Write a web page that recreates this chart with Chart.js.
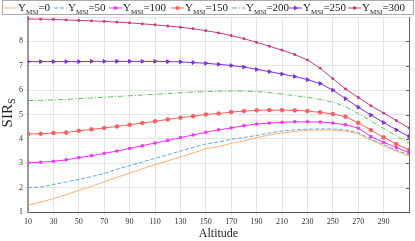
<!DOCTYPE html>
<html>
<head>
<meta charset="utf-8">
<script src="https://cdn.jsdelivr.net/npm/chart.js@4"></script>
<style>
	html, body { margin: 0; padding: 0; background: #fff; }
	#wrap { position: relative; width: 415px; height: 241px; font-family: "Liberation Serif", serif; }
	#legend { position: absolute; left: 2px; top: 0; width: 410px; height: 13px; border: 1px solid #aaa; background: #fff; }
	.item { position: absolute; top: 0; height: 13px; font-size: 11px; line-height: 12px; color: #222; white-space: nowrap; }
	.item svg { vertical-align: middle; margin-right: 1px; }
	.item sub { font-size: 7px; vertical-align: -3px; }
	#ytitle { position: absolute; left: -14px; top: 104px; width: 44px; text-align: center; font-size: 15px; color: #222; transform: rotate(-90deg); white-space: nowrap; }
	#ytitle sub { font-size: 10px; vertical-align: -3px; }
</style>
</head>
<body>
<div id="wrap">
	<canvas id="chart" width="415" height="241"></canvas>
	<div id="legend"></div>
	<div id="ytitle">SIR<sub>S</sub></div>
</div>
<script>
	// altitude axis
	var altitudes = [10, 20, 30, 40, 50, 60, 70, 80, 90, 100, 110, 120, 130, 140, 150, 160, 170, 180, 190, 200, 210, 220, 230, 240, 250, 260, 270, 280, 290, 300, 310];
	var msiLevels = ['0', '50', '100', '150', '200', '250', '300'];

	/* ================= SIR_S per Y_MSI ================= */
	var sir0 = [1.29, 1.40, 1.55, 1.71, 1.89, 2.05, 2.24, 2.42, 2.60, 2.77, 2.94, 3.10, 3.26, 3.42, 3.60, 3.68, 3.82, 3.92, 4.05, 4.16, 4.24, 4.31, 4.35, 4.36, 4.36, 4.32, 4.21, 3.95, 3.72, 3.50, 3.30];
	var sir50 = [2.00, 2.02, 2.13, 2.23, 2.34, 2.45, 2.58, 2.75, 2.90, 3.05, 3.20, 3.35, 3.50, 3.65, 3.79, 3.87, 3.98, 4.06, 4.14, 4.24, 4.32, 4.37, 4.40, 4.41, 4.41, 4.36, 4.25, 4.00, 3.77, 3.54, 3.34];
	var sir100 = [3.02, 3.04, 3.08, 3.14, 3.23, 3.31, 3.41, 3.50, 3.61, 3.72, 3.83, 3.94, 4.05, 4.16, 4.27, 4.37, 4.45, 4.54, 4.61, 4.65, 4.68, 4.70, 4.70, 4.69, 4.65, 4.58, 4.44, 4.09, 3.86, 3.64, 3.43];
	var sir150 = [4.20, 4.21, 4.24, 4.26, 4.33, 4.39, 4.45, 4.51, 4.58, 4.65, 4.72, 4.80, 4.87, 4.93, 5.00, 5.04, 5.10, 5.14, 5.17, 5.18, 5.18, 5.17, 5.14, 5.09, 5.02, 4.91, 4.66, 4.36, 4.06, 3.79, 3.54];
	var sir200 = [5.57, 5.58, 5.60, 5.62, 5.65, 5.68, 5.71, 5.74, 5.77, 5.80, 5.83, 5.86, 5.89, 5.92, 5.94, 5.96, 5.96, 5.96, 5.94, 5.90, 5.84, 5.77, 5.71, 5.62, 5.50, 5.33, 5.04, 4.74, 4.43, 4.12, 3.83];
	var sir250 = [7.17, 7.17, 7.17, 7.17, 7.17, 7.18, 7.18, 7.18, 7.18, 7.18, 7.18, 7.17, 7.16, 7.13, 7.10, 7.06, 7.01, 6.95, 6.85, 6.76, 6.66, 6.56, 6.43, 6.27, 6.00, 5.65, 5.30, 4.98, 4.67, 4.37, 4.10];
	var sir300 = [8.92, 8.91, 8.90, 8.88, 8.86, 8.84, 8.82, 8.79, 8.76, 8.72, 8.68, 8.63, 8.58, 8.52, 8.44, 8.35, 8.24, 8.11, 7.96, 7.80, 7.64, 7.46, 7.24, 6.90, 6.47, 6.05, 5.70, 5.36, 5.06, 4.75, 4.45];

	var seriesValues = [sir0, sir50, sir100, sir150, sir200, sir250, sir300];
	var colors = ['#ffb06e', '#5aa8f2', '#ff2cff', '#ff5c5c', '#5cc45c', '#7a30e6', '#c93a7e'];
	var dashes = [[], [4, 2], [], [], [5, 2, 1, 2], [], []];
	var markers = [false, false, 'rect', 'circle', false, 'triangle', 'rect'];
	var markerSize = [0, 0, 1.5, 1.8, 0, 2.1, 1.2];

	function toPoints(values) {
		return values.map(function(v, i) {
			return { x: altitudes[i], y: v };
		});
	}

	var datasets = seriesValues.map(function(values, i) {
		return {
			label: 'Y_MSI=' + msiLevels[i],
			data: toPoints(values),
			borderColor: colors[i],
			backgroundColor: colors[i],
			borderWidth: 1,
			borderDash: dashes[i],
			pointStyle: markers[i] || 'circle',
			pointRadius: markers[i] ? markerSize[i] : 0,
			pointRotation: markers[i] === 'triangle' ? 90 : 0,
			pointBorderWidth: 1,
			tension: 0
		};
	});

	/* ================= HTML legend (needs subscripts) ================= */
	var legendLeft = [1, 51, 106, 168, 229, 286, 345];
	var legend = document.getElementById('legend');
	msiLevels.forEach(function(level, i) {
		var dash = dashes[i].length ? ' stroke-dasharray="' + dashes[i].join(',') + '"' : '';
		var mark = '';
		if (markers[i] === 'rect') {
			mark = '<rect x="5" y="3.5" width="3" height="3" fill="' + colors[i] + '"/>';
		} else if (markers[i] === 'circle') {
			mark = '<circle cx="6.5" cy="5" r="2" fill="' + colors[i] + '"/>';
		} else if (markers[i] === 'triangle') {
			mark = '<polygon points="5,2.5 9,5 5,7.5" fill="' + colors[i] + '"/>';
		}
		var el = document.createElement('div');
		el.className = 'item';
		el.style.left = legendLeft[i] + 'px';
		el.innerHTML = '<svg width="13" height="10"><line x1="0" y1="5" x2="13" y2="5" stroke="' + colors[i] + '" stroke-width="1"' + dash + '/>' + mark + '</svg>' +
			'Y<sub>MSI</sub>=' + level;
		legend.appendChild(el);
	});

	// right frame line with inward ticks
	var frameRight = {
		id: 'frameRight',
		afterDraw: function(chart) {
			var ctx = chart.ctx;
			var area = chart.chartArea;
			var yScale = chart.scales.y;
			ctx.save();
			ctx.strokeStyle = '#666';
			ctx.lineWidth = 1;
			ctx.beginPath();
			ctx.moveTo(area.right + 0.5, area.top);
			ctx.lineTo(area.right + 0.5, area.bottom);
			for (var v = 2; v <= 8; v++) {
				var py = Math.round(yScale.getPixelForValue(v)) + 0.5;
				ctx.moveTo(area.right, py);
				ctx.lineTo(area.right - 3, py);
			}
			ctx.stroke();
			ctx.restore();
		}
	};

	var tickFont = { family: 'Liberation Serif', size: 8 };

	var ctx = document.getElementById('chart');
	var chart = new Chart(ctx, {
		type: 'line',
		data: { datasets: datasets },
		plugins: [frameRight],
		options: {
			responsive: false,
			animation: false,
			devicePixelRatio: 1,
			layout: { padding: { top: 17, right: 6, left: 0, bottom: 0 } },
			plugins: {
				legend: { display: false },
				tooltip: { enabled: false }
			},
			scales: {
				x: {
					type: 'linear',
					min: 10,
					max: 310,
					ticks: {
						stepSize: 20,
						font: tickFont,
						color: '#333',
						padding: 2,
						maxRotation: 0,
						callback: function(value) {
							return value === 310 ? '' : value;
						}
					},
					grid: { color: '#e4e4e4', tickLength: 3 },
					border: { color: '#555', width: 1 },
					title: {
						display: true,
						text: 'Altitude',
						font: { family: 'Liberation Serif', size: 12 },
						color: '#222',
						padding: 0
					},
					afterFit: function(scale) { scale.height = 29; }
				},
				y: {
					min: 1,
					max: 9,
					ticks: {
						stepSize: 1,
						font: tickFont,
						color: '#333',
						padding: 2,
						callback: function(value) {
							return value === 9 ? '' : value;
						}
					},
					grid: { color: '#e4e4e4', tickLength: 3 },
					border: { color: '#999', width: 2 },
					afterFit: function(scale) { scale.width = 28; }
				}
			}
		}
	});
</script>
</body>
</html>
